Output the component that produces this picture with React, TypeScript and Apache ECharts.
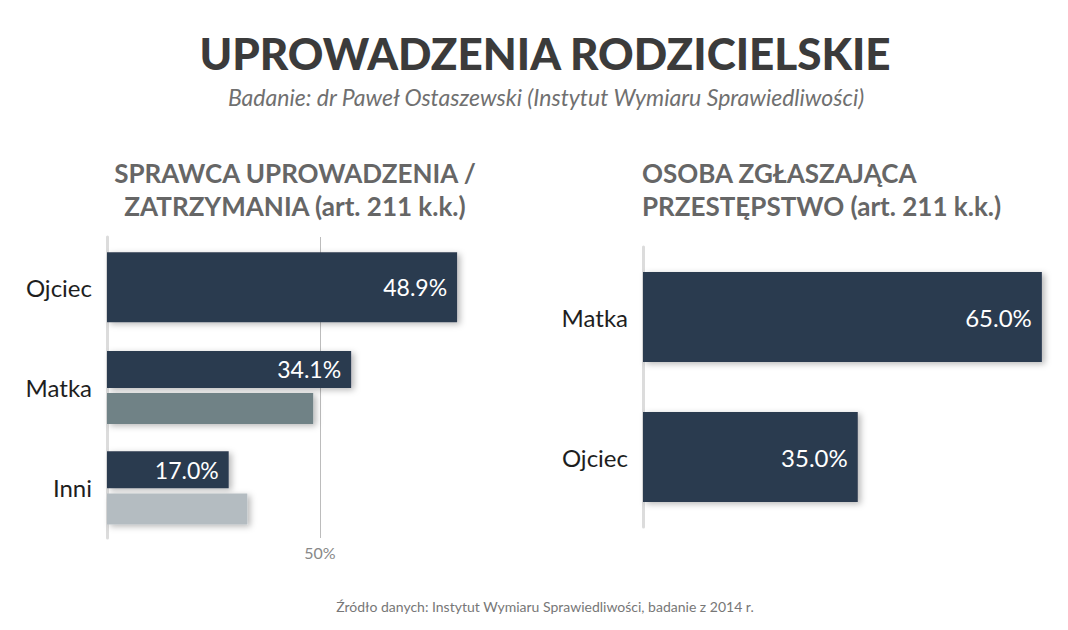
import React, { useEffect, useRef } from 'react'
import * as echarts from 'echarts'

// --- dane ---
const leftCategories = ['Ojciec', 'Matka', 'Inni']
const leftValues = [48.9, 34.1, 17.0]
// drugi (jasny) słupek – bez podpisu
const leftSecondary: (number | null)[] = [null, 28.8, 19.6]
const refLineValue = 50
const rightCategories = ['Matka', 'Ojciec']
const rightValues = [65.0, 35.0]

const titleText = 'UPROWADZENIA RODZICIELSKIE'
const subtitleText = 'Badanie: dr Paweł Ostaszewski (Instytut Wymiaru Sprawiedliwości)'
const leftHeading = 'SPRAWCA UPROWADZENIA /\nZATRZYMANIA (art. 211 k.k.)'
const rightHeading = 'OSOBA ZGŁASZAJĄCA\nPRZESTĘPSTWO (art. 211 k.k.)'
const footerText = 'Źródło danych: Instytut Wymiaru Sprawiedliwości, badanie z 2014 r.'

// --- style ---
const DARK = '#2c3a50'
const secondaryColors = ['#6f8286', '#6f8286', '#b4bcc1']
const FONT = 'Lato, "Noto Sans", sans-serif'

const barShadow = {
  shadowBlur: 6,
  shadowColor: 'rgba(0,0,0,0.28)',
  shadowOffsetX: 3,
  shadowOffsetY: 2,
}

const valueLabel = (size: number) => ({
  show: true,
  position: 'insideRight',
  distance: 10,
  color: '#fff',
  fontSize: size,
  fontFamily: FONT,
  formatter: (p: any) => Number(p.value).toFixed(1) + '%',
})

const App: React.FC = () => {
  const chartRef = useRef<HTMLDivElement>(null)

  useEffect(() => {
    document.body.style.margin = '0'
    if (!chartRef.current) return
    const chart = echarts.init(chartRef.current, null, { renderer: 'svg' })

    // Ojciec ma jeden szeroki słupek, pozostałe – pary
    const singleData = leftValues.map((v, i) => (leftSecondary[i] == null ? v : '-'))
    const pairedData = leftValues.map((v, i) => (leftSecondary[i] == null ? '-' : v))
    const secondaryData = leftSecondary.map((v, i) =>
      v == null ? '-' : { value: v, itemStyle: { color: secondaryColors[i] } }
    )

    const catLabel = {
      fontSize: 24,
      color: '#1e1e1e',
      fontFamily: FONT,
      margin: 15,
    }
    const axisLineStyle = {
      show: true,
      lineStyle: { color: '#dcdcdc', width: 3 },
    }

    const option = {
      animation: false,
      backgroundColor: '#ffffff',
      grid: [
        { left: 107, top: 237, width: 426, height: 301, outerBoundsMode: 'none' },
        { left: 643, top: 247, width: 405, height: 280, outerBoundsMode: 'none' },
      ],
      xAxis: [
        { gridIndex: 0, type: 'value', min: 0, max: 59.5, show: false },
        {
          gridIndex: 0,
          type: 'value',
          min: 0,
          max: 100,
          interval: refLineValue,
          position: 'bottom',
          axisLine: { show: false },
          axisTick: { show: false },
          axisLabel: {
            color: '#888',
            fontSize: 16,
            fontFamily: FONT,
            margin: 6,
            showMinLabel: false,
            showMaxLabel: false,
            formatter: (v: number) => (v === refLineValue ? v + '%' : ''),
          },
          splitLine: {
            show: true,
            showMinLine: false,
            showMaxLine: false,
            lineStyle: { color: '#bcbcbc', width: 1 },
          },
        },
        { gridIndex: 1, type: 'value', min: 0, max: 66, show: false },
      ],
      yAxis: [
        {
          gridIndex: 0,
          type: 'category',
          data: leftCategories,
          inverse: true,
          axisLine: axisLineStyle,
          axisTick: { show: false },
          axisLabel: catLabel,
        },
        {
          gridIndex: 0,
          type: 'category',
          data: leftCategories,
          inverse: true,
          show: false,
        },
        {
          gridIndex: 1,
          type: 'category',
          data: rightCategories,
          inverse: true,
          axisLine: axisLineStyle,
          axisTick: { show: false },
          axisLabel: catLabel,
        },
      ],
      series: [
        {
          type: 'bar',
          xAxisIndex: 0,
          yAxisIndex: 0,
          data: singleData,
          barWidth: 70,
          itemStyle: { color: DARK, ...barShadow },
          label: valueLabel(23),
        },
        {
          type: 'bar',
          xAxisIndex: 0,
          yAxisIndex: 1,
          data: pairedData,
          barWidth: 37,
          barGap: '14%',
          itemStyle: { color: DARK, ...barShadow },
          label: valueLabel(23),
        },
        {
          type: 'bar',
          xAxisIndex: 0,
          yAxisIndex: 1,
          data: secondaryData,
          barWidth: 31,
          barGap: '14%',
          itemStyle: { ...barShadow },
        },
        {
          type: 'bar',
          xAxisIndex: 2,
          yAxisIndex: 2,
          data: rightValues,
          barWidth: 90,
          itemStyle: { color: DARK, ...barShadow },
          label: valueLabel(24),
        },
      ],
      graphic: [
        {
          type: 'text',
          x: 545,
          y: 53,
          style: {
            text: titleText,
            fontSize: 44,
            fontWeight: 900,
            fontFamily: FONT,
            fill: '#3b3b3b',
            textAlign: 'center',
            textVerticalAlign: 'middle',
          },
        },
        {
          type: 'text',
          x: 546,
          y: 97,
          style: {
            text: subtitleText,
            fontSize: 23,
            fontStyle: 'italic',
            fontFamily: FONT,
            fill: '#707070',
            textAlign: 'center',
            textVerticalAlign: 'middle',
          },
        },
        {
          type: 'text',
          x: 295,
          y: 189,
          style: {
            text: leftHeading,
            fontSize: 26,
            fontWeight: 'bold',
            fontFamily: FONT,
            lineHeight: 33,
            fill: '#666666',
            textAlign: 'center',
            textVerticalAlign: 'middle',
          },
        },
        {
          type: 'text',
          x: 642,
          y: 189,
          style: {
            text: rightHeading,
            fontSize: 26,
            fontWeight: 'bold',
            fontFamily: FONT,
            lineHeight: 33,
            fill: '#666666',
            textAlign: 'left',
            textVerticalAlign: 'middle',
          },
        },
        {
          type: 'text',
          x: 545,
          y: 606,
          style: {
            text: footerText,
            fontSize: 14,
            fontFamily: FONT,
            fill: '#777777',
            textAlign: 'center',
            textVerticalAlign: 'middle',
          },
        },
      ],
    }

    chart.setOption(option)

    return () => {
      chart.dispose()
    }
  }, [])

  return <div ref={chartRef} style={{ width: 1068, height: 630 }} />
}

export default App
